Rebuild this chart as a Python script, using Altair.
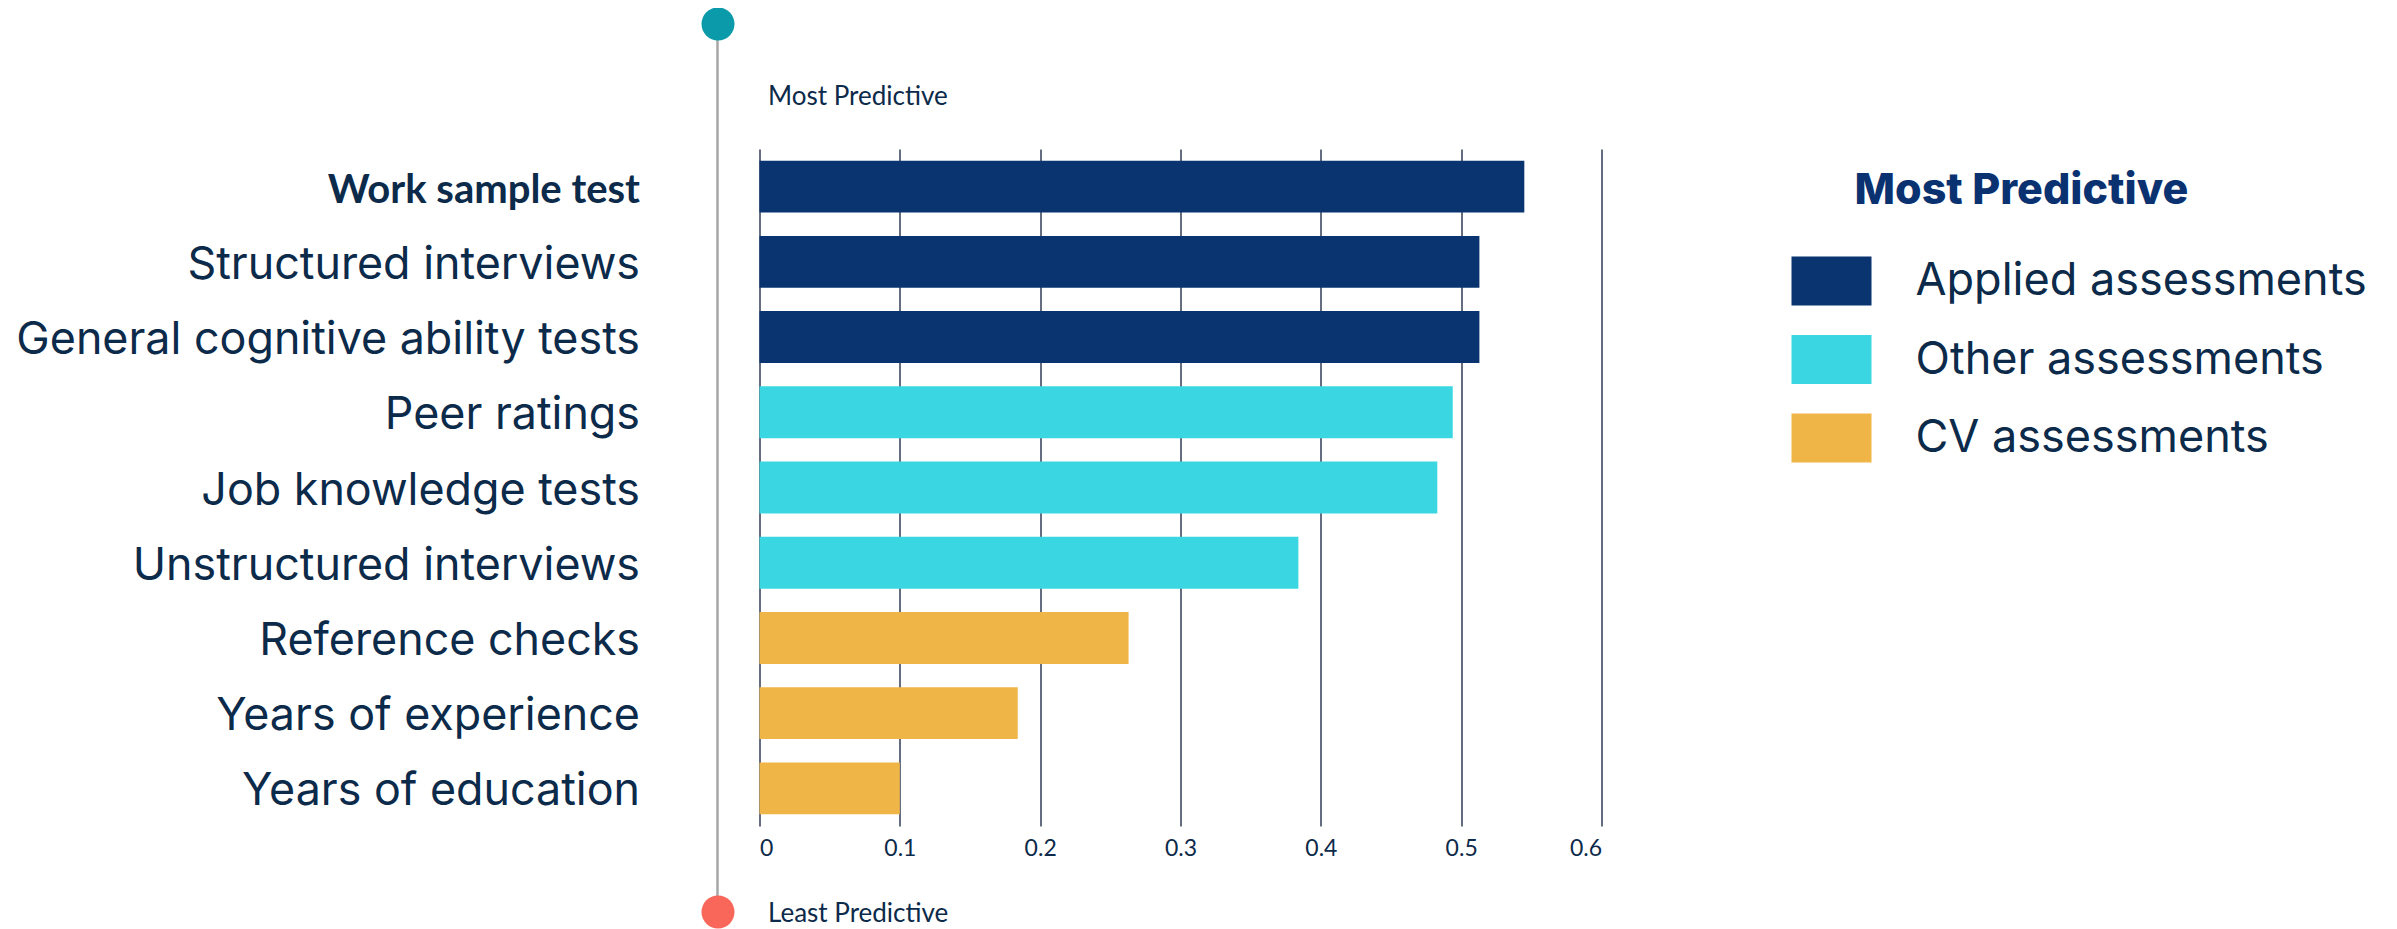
import altair as alt
import pandas as pd

categories = [
    "Work sample test",
    "Structured interviews",
    "General cognitive ability tests",
    "Peer ratings",
    "Job knowledge tests",
    "Unstructured interviews",
    "Reference checks",
    "Years of experience",
    "Years of education",
]
values = [0.545, 0.513, 0.513, 0.494, 0.483, 0.384, 0.263, 0.184, 0.100]
groups = [
    "Applied assessments", "Applied assessments", "Applied assessments",
    "Other assessments", "Other assessments", "Other assessments",
    "CV assessments", "CV assessments", "CV assessments",
]
group_order = ["Applied assessments", "Other assessments", "CV assessments"]
group_colors = ["#0A3470", "#3AD7E2", "#EFB546"]
tick_values = [0, 0.1, 0.2, 0.3, 0.4, 0.5, 0.6]

TEXT = "#0C2A4A"

df = pd.DataFrame({"label": categories, "value": values, "group": groups})
one = pd.DataFrame({"a": [0]})

bars = alt.Chart(df).mark_bar().encode(
    x=alt.X(
        "value:Q",
        scale=alt.Scale(domain=[0, 0.6], nice=False),
        axis=alt.Axis(
            values=tick_values, format="~g", grid=True, gridColor="#646E80",
            gridWidth=2, ticks=False, domain=False, title=None,
            labelFont="Lato", labelFontSize=23, labelColor=TEXT, labelPadding=11,
        ),
    ),
    y=alt.Y(
        "label:N",
        sort=categories,
        scale=alt.Scale(paddingInner=0.31, paddingOuter=0.155),
        axis=alt.Axis(
            title=None, ticks=False, domain=False, grid=False,
            labelPadding=120, labelLimit=1000, labelColor=TEXT, labelOffset=4,
            labelFont={"condition": {"test": "datum.value === 'Work sample test'", "value": "Lato"}, "value": "Inter"},
            labelFontSize={"condition": {"test": "datum.value === 'Work sample test'", "value": 40}, "value": 44.8},
            labelFontWeight={"condition": {"test": "datum.value === 'Work sample test'", "value": "bold"}, "value": "normal"},
        ),
    ),
    color=alt.Color(
        "group:N",
        scale=alt.Scale(domain=group_order, range=group_colors),
        legend=alt.Legend(
            title=None, orient="none", legendX=1032, legendY=92,
            symbolType="M-1,-0.6125H1V0.6125H-1Z", symbolSize=6400,
            symbolStrokeWidth=0, symbolOpacity=1,
            labelFont="Inter", labelFontSize=45, labelColor=TEXT,
            labelOffset=44, rowPadding=13.5, labelLimit=1000,
        ),
    ),
)

line = alt.Chart(one).mark_rule(color="#A6A6A6", strokeWidth=2.5).encode(
    x=alt.value(-42), y=alt.value(-125), y2=alt.value(763)
)
top_dot = alt.Chart(one).mark_point(filled=True, shape="circle", size=1089, opacity=1, color="#0A9AAA").encode(
    x=alt.value(-41.5), y=alt.value(-125)
)
bot_dot = alt.Chart(one).mark_point(filled=True, shape="circle", size=1089, opacity=1, color="#F8675A").encode(
    x=alt.value(-41.5), y=alt.value(763)
)
most_txt = alt.Chart(one).mark_text(
    text="Most Predictive", align="left", baseline="alphabetic", font="Lato", fontSize=26, color=TEXT
).encode(x=alt.value(8.5), y=alt.value(-44))
least_txt = alt.Chart(one).mark_text(
    text="Least Predictive", align="left", baseline="alphabetic", font="Lato", fontSize=26, color=TEXT
).encode(x=alt.value(8.5), y=alt.value(773))
legend_title = alt.Chart(one).mark_text(
    text="Most Predictive", align="left", baseline="alphabetic", font="Inter", fontSize=43,
    fontWeight=800, color="#0B3270"
).encode(x=alt.value(1095), y=alt.value(55))

chart = alt.layer(line, top_dot, bot_dot, most_txt, least_txt, legend_title, bars).properties(
    width=842, height=677,
    padding={"left": 751.5, "top": 141, "right": 780, "bottom": 103},
    autosize=alt.AutoSizeParams(type="none"),
).configure_view(stroke=None)

chart.save("out.html", embed_options={"renderer": "svg", "actions": False})
